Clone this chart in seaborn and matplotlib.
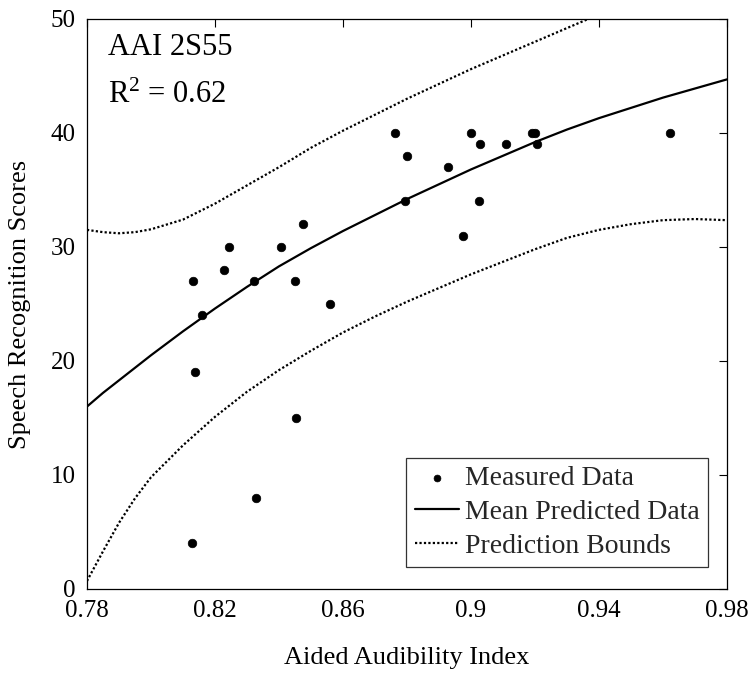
import matplotlib
matplotlib.use("Agg")
import matplotlib.pyplot as plt
import seaborn as sns
import pandas as pd

aai = [0.8128, 0.8327, 0.8453, 0.8138, 0.8158, 0.8560, 0.8132, 0.8228, 0.8245,
       0.8322, 0.8406, 0.8450, 0.8475, 0.8763, 0.8800, 0.8794, 0.8929, 0.8999,
       0.9028, 0.9025, 0.8976, 0.9109, 0.9190, 0.9200, 0.9205, 0.9622]
scores = [4, 8, 15, 19, 24, 25, 27, 28, 30,
          27, 30, 27, 32, 40, 38, 34, 37, 40,
          39, 34, 31, 39, 40, 40, 39, 40]

# Fitted curves (read at sample points)
grid_x = [0.78, 0.785, 0.79, 0.795, 0.80, 0.81, 0.82, 0.83, 0.84, 0.85, 0.86,
          0.87, 0.88, 0.89, 0.90, 0.91, 0.92, 0.93, 0.94, 0.95, 0.96, 0.97, 0.98]
mean_pred = [16.0, 17.2, 18.3, 19.4, 20.5, 22.6, 24.6, 26.5, 28.3, 29.9, 31.4,
             32.8, 34.2, 35.5, 36.8, 38.0, 39.2, 40.3, 41.3, 42.2, 43.1, 43.9, 44.7]
upper_bound = [31.5, 31.3, 31.2, 31.3, 31.55, 32.4, 33.8, 35.4, 37.0, 38.7, 40.2,
               41.6, 43.0, 44.3, 45.6, 46.8, 48.0, 49.2, 50.4, 51.6, 52.8, 54.0, 55.2]
lower_bound = [0.7, 3.3, 5.8, 7.95, 9.8, 12.6, 15.1, 17.3, 19.2, 20.9, 22.5,
               23.9, 25.2, 26.4, 27.6, 28.7, 29.8, 30.8, 31.5, 32.0, 32.35, 32.45, 32.35]

x_ticks = [0.78, 0.82, 0.86, 0.90, 0.94, 0.98]
x_ticklabels = ["0.78", "0.82", "0.86", "0.9", "0.94", "0.98"]
y_ticks = [0, 10, 20, 30, 40, 50]

sns.set_theme(style="white")
plt.rcParams["font.family"] = ["Liberation Serif", "DejaVu Serif"]
plt.rcParams["mathtext.fontset"] = "custom"
plt.rcParams["mathtext.rm"] = "Liberation Serif"
plt.rcParams["mathtext.it"] = "Liberation Serif:italic"

fig = plt.figure(figsize=(7.55, 6.77), dpi=100)
ax = fig.add_axes([0.1152, 0.13, 0.8477, 0.842])

meas = pd.DataFrame({"x": aai, "y": scores})
curves = pd.DataFrame({"x": grid_x, "mean": mean_pred,
                       "up": upper_bound, "lo": lower_bound})

sns.scatterplot(data=meas, x="x", y="y", ax=ax, color="black", s=38,
                edgecolor="black", linewidth=0.5, label="Measured Data", zorder=3)
sns.lineplot(data=curves, x="x", y="mean", ax=ax, color="black", lw=1.6,
             label="Mean Predicted Data")
sns.lineplot(data=curves, x="x", y="up", ax=ax, color="black", lw=1.6,
             linestyle=(0, (1, 1)), label="Prediction Bounds")
sns.lineplot(data=curves, x="x", y="lo", ax=ax, color="black", lw=1.6,
             linestyle=(0, (1, 1)), label="_nolegend_")

ax.set_xlim(0.78, 0.98)
ax.set_ylim(0, 50)
ax.set_xticks(x_ticks)
ax.set_xticklabels(x_ticklabels)
ax.set_yticks(y_ticks)
ax.tick_params(direction="in", length=6, width=0.8, colors="black",
               labelsize=18, top=True, right=True, pad=8)
for sp in ax.spines.values():
    sp.set_color("black")
    sp.set_linewidth(0.9)

ax.set_xlabel("Aided Audibility Index", fontsize=19, labelpad=18, color="black")
ax.set_ylabel("Speech Recognition Scores", fontsize=19, labelpad=14, color="black")

ax.text(0.033, 0.975, "AAI 2S55", transform=ax.transAxes, fontsize=22,
        va="top", ha="left", color="black")
ax.text(0.033, 0.892, r"R$^2$ = 0.62", transform=ax.transAxes, fontsize=22,
        va="top", ha="left", color="black")

leg = ax.legend(loc="lower right", bbox_to_anchor=(0.97, 0.038), fontsize=20,
                frameon=True, fancybox=False, edgecolor="black",
                handlelength=1.6, handletextpad=0.2, labelspacing=0.3,
                borderpad=0.3, borderaxespad=0, markerscale=0.8)
leg.get_frame().set_linewidth(0.9)

fig.savefig("out.png", dpi=100)
